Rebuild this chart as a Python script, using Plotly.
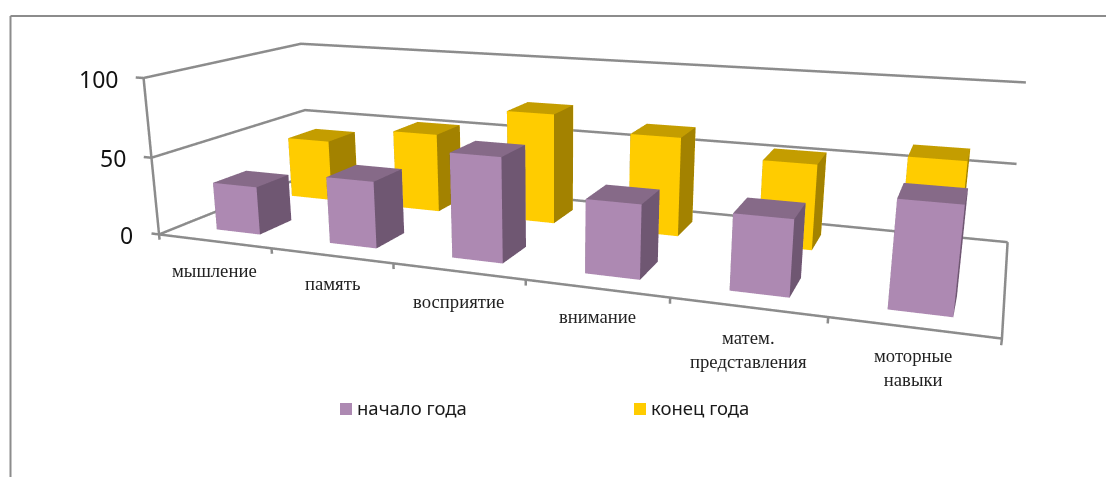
import plotly.graph_objects as go

categories = ["мышление", "память", "восприятие", "внимание", "матем.<br>представления", "моторные<br>навыки"]
series_names = ["начало года", "конец года"]
start_year = [31, 42, 64, 44, 44, 60]
end_year = [42, 53, 72.5, 63.5, 53.5, 62.5]
value_ticks = [0, 50, 100]

WIN_W, WIN_H = 1106, 477
SCENE_W, SCENE_H = 1106, 982
LEFT, TOP = 0, 252
PAD = 1.2

def px(x):
    return (x + LEFT) / SCENE_W

def py(y):
    return 1 - (y + TOP) / SCENE_H

LINE = "#8c8c8c"
PURPLE = ("#AD89B2", "#866A88", "#6F5772")
YELLOW = ("#FFCC00", "#C49D00", "#A38200")

def mesh(vals, yc, colors, name, dx, dw=0.195, dd=0.205):
    cf, ct, cs = colors
    X, Y, Z, I, J, K, FC = [], [], [], [], [], [], []
    quads = [(0, 1, 5, 4, cf), (4, 5, 6, 7, ct), (1, 2, 6, 5, cs), (0, 3, 7, 4, cs), (3, 2, 6, 7, cf), (0, 1, 2, 3, cs)]
    for n, v in enumerate(vals):
        x0, x1 = n + 0.5 + dx - dw, n + 0.5 + dx + dw
        y0, y1 = yc - dd, yc + dd
        b = len(X)
        X += [x0, x1, x1, x0, x0, x1, x1, x0]
        Y += [y0, y0, y1, y1, y0, y0, y1, y1]
        Z += [0, 0, 0, 0, v, v, v, v]
        for p, q, r, s, col in quads:
            I += [b + p, b + p]
            J += [b + q, b + r]
            K += [b + r, b + s]
            FC += [col, col]
    return go.Mesh3d(x=X, y=Y, z=Z, i=I, j=J, k=K, facecolor=FC, flatshading=True, name=name, hoverinfo="skip",
                     lighting=dict(ambient=1, diffuse=0, specular=0, fresnel=0, roughness=1), showscale=False)

fig = go.Figure()
fig.add_trace(mesh(start_year, 0.465, PURPLE, series_names[0], 0.02))
fig.add_trace(mesh(end_year, 1.51, YELLOW, series_names[1], -0.015))

def line(x, y, z):
    fig.add_trace(go.Scatter3d(x=x, y=y, z=z, mode="lines", line=dict(color=LINE, width=5),
                               hoverinfo="skip", showlegend=False))

for v in value_ticks:
    line([0, 0, 6], [0, 2, 2], [v, v, v])
    line([0, -0.07], [0, 0], [v, v])
line([0, 0], [0, 0], [0, 100])
line([0, 6, 6], [0, 0, 2], [0, 0, 0])
for k in range(7):
    line([k, k], [0, 0], [0, -3.5])

off = dict(visible=False)
annotations = []
def text(s, x, y, family, size, anchor="center", color="#1a1a1a"):
    annotations.append(dict(text=s, x=px(x), y=py(y), xref="paper", yref="paper", showarrow=False, xanchor=anchor,
                            yanchor="middle", align="center", font=dict(family=family, size=size, color=color)))

for lab, x, y in zip(categories, [214, 332, 458, 597, 748, 913], [270, 283, 301, 316, 349, 367]):
    text(lab, x, y, "Liberation Serif", 18.7, color="#222222")
for lab, x, y in zip(value_ticks, [135, 128, 120], [235, 158, 79]):
    text(str(lab), x, y, "Noto Sans", 23, anchor="right", color="#111111")
text(series_names[0], 355, 407, "Noto Sans", 18.5, anchor="left")
text(series_names[1], 649, 407, "Noto Sans", 18.5, anchor="left")

shapes = [
    dict(type="line", xref="paper", yref="paper", x0=px(10.5), x1=1, y0=py(16), y1=py(16), line=dict(color=LINE, width=2)),
    dict(type="line", xref="paper", yref="paper", x0=px(10.5), x1=px(10.5), y0=py(16), y1=py(WIN_H), line=dict(color=LINE, width=2)),
    dict(type="rect", xref="paper", yref="paper", x0=px(340), x1=px(352), y0=py(403), y1=py(415), fillcolor=PURPLE[0], line=dict(width=0)),
    dict(type="rect", xref="paper", yref="paper", x0=px(634), x1=px(646), y0=py(403), y1=py(415), fillcolor=YELLOW[0], line=dict(width=0)),
]

fig.update_layout(
    width=SCENE_W, height=SCENE_H, margin=dict(l=0, r=0, t=0, b=0), paper_bgcolor="white", showlegend=False,
    scene=dict(domain=dict(x=[0, 1], y=[0, 1]), aspectmode="manual",
               aspectratio=dict(x=2 * PAD, y=0.6961 * PAD, z=0.3960 * PAD),
               xaxis=dict(range=[3 - 3 * PAD, 3 + 3 * PAD], **off),
               yaxis=dict(range=[1 - PAD, 1 + PAD], **off),
               zaxis=dict(range=[50 - 50 * PAD, 50 + 50 * PAD], **off),
               camera=dict(eye=dict(x=0.9578, y=-2.6704, z=0.6459), center=dict(x=-0.0401, y=-0.0742, z=-0.1835),
                           up=dict(x=0.0003, y=0, z=1), projection=dict(type="perspective"))),
    annotations=annotations, shapes=shapes)

js = ("var g=document.getElementById('{plot_id}');document.documentElement.style.overflow='hidden';"
      "document.body.style.overflow='hidden';document.body.style.margin='0';g.style.position='absolute';"
      f"g.style.left='{-LEFT}px';g.style.top='{-TOP}px';")
fig.write_html("out.html", config=dict(displayModeBar=False), post_script=js)
